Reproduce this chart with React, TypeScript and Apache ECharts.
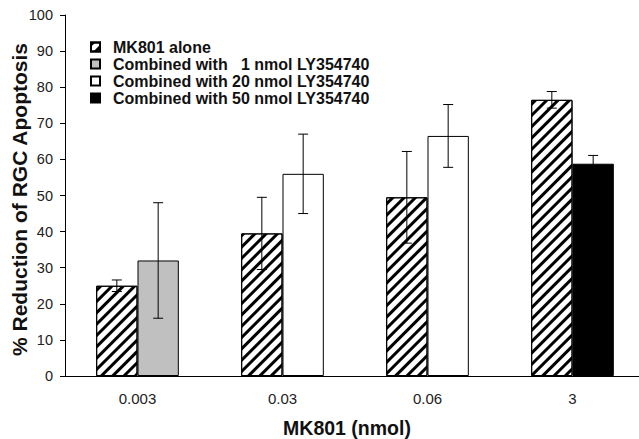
import React, { useEffect, useRef } from "react";
import * as echarts from "echarts";

const categories = ["0.003", "0.03", "0.06", "3"];
const yTicks = { min: 0, max: 100, interval: 10 };
const aloneValues = [25, 39.5, 49.5, 76.5];
const aloneErrors = [1.6, 10, 12.7, 2.3];
const ly1Values = [32, null, null, null];
const ly20Values = [null, 56, 66.5, null];
const ly50Values = [null, null, null, 58.8];
const combinedErrors = [16, 11, 8.7, 2.3];
const combinedValues = [32, 56, 66.5, 58.8];
const seriesNames = [
  "MK801 alone",
  "Combined with   1 nmol LY354740",
  "Combined with 20 nmol LY354740",
  "Combined with 50 nmol LY354740",
];

const FONT = "Liberation Sans, Arial, sans-serif";
const BAR_FRAC = 0.285;

export default function App() {
  const ref = useRef<HTMLDivElement>(null);
  useEffect(() => {
    if (!ref.current) return;
    const chart = echarts.init(ref.current, null, { renderer: "svg" });
    const errData: any[] = [];
    aloneValues.forEach((v, i) => errData.push([i, v, aloneErrors[i], -1]));
    combinedValues.forEach((v, i) => errData.push([i, v, combinedErrors[i], 1]));
    const border = { borderColor: "#000", borderWidth: 1 };
    const bw = BAR_FRAC * 100 + "%";
    chart.setOption({
      animation: false,
      backgroundColor: "#fff",
      grid: { left: 65, top: 15, bottom: 63, width: 580, outerBoundsMode: "none" },
      legend: {
        orient: "vertical",
        left: 90,
        top: 39,
        padding: 0,
        itemWidth: 9,
        itemHeight: 9,
        itemGap: 1,
        icon: "rect",
        data: seriesNames,
        textStyle: {
          fontFamily: FONT,
          fontWeight: "bold",
          fontSize: 16,
          color: "#111",
          padding: [0, 0, 0, 8],
        },
      },
      xAxis: {
        type: "category",
        data: categories,
        axisLine: { lineStyle: { color: "#000", width: 1 } },
        axisTick: { length: 5, lineStyle: { color: "#000" } },
        axisLabel: { fontFamily: FONT, fontSize: 15, color: "#222", margin: 15 },
        name: "MK801 (nmol)",
        nameLocation: "middle",
        nameGap: 42,
        nameMoveOverlap: false,
        nameTextStyle: {
          fontFamily: FONT,
          fontWeight: "bold",
          fontSize: 19.5,
          color: "#111",
          padding: [0, 16, 0, 0],
        },
      },
      yAxis: {
        type: "value",
        min: yTicks.min,
        max: yTicks.max,
        interval: yTicks.interval,
        splitLine: { show: false },
        axisLine: { show: true, lineStyle: { color: "#000", width: 1 } },
        axisTick: { show: true, length: 5, lineStyle: { color: "#000" } },
        axisLabel: { fontFamily: FONT, fontSize: 14.5, color: "#222", margin: 12 },
        name: "% Reduction of RGC Apoptosis",
        nameLocation: "middle",
        nameGap: 35,
        nameMoveOverlap: false,
        nameTextStyle: {
          fontFamily: FONT,
          fontWeight: "bold",
          fontSize: 21,
          color: "#111",
          padding: [0, 8, 0, 0],
        },
      },
      series: [
        {
          type: "bar",
          name: seriesNames[0],
          data: aloneValues,
          barWidth: bw,
          barGap: "0%",
          itemStyle: {
            color: "#fff",
            ...border,
            decal: {
              symbol: "rect",
              symbolSize: 1,
              dashArrayX: [1, 0],
              dashArrayY: [3, 5],
              rotation: -Math.PI / 4,
              color: "#000",
              backgroundColor: "#fff",
            },
          },
        },
        {
          type: "bar",
          name: seriesNames[1],
          stack: "combined",
          data: ly1Values,
          barWidth: bw,
          barGap: "0%",
          itemStyle: { color: "#c0c0c0", ...border },
        },
        {
          type: "bar",
          name: seriesNames[2],
          stack: "combined",
          data: ly20Values,
          barWidth: bw,
          barGap: "0%",
          itemStyle: { color: "#fff", ...border },
        },
        {
          type: "bar",
          name: seriesNames[3],
          stack: "combined",
          data: ly50Values,
          barWidth: bw,
          barGap: "0%",
          itemStyle: { color: "#000", ...border },
        },
        {
          type: "custom",
          data: errData,
          encode: { x: 0, y: 1 },
          z: 10,
          renderItem: (params: any, api: any) => {
            const ci = api.value(0);
            const v = api.value(1);
            const e = api.value(2);
            const side = api.value(3);
            const band = api.size([1, 0])[0];
            const w = band * BAR_FRAC;
            const c = api.coord([ci, v]);
            const x = c[0] + (side * w) / 2;
            const top = api.coord([ci, v + e])[1];
            const bot = api.coord([ci, v - e])[1];
            const cap = 5;
            const st = { stroke: "#000", lineWidth: 1 };
            return {
              type: "group",
              children: [
                { type: "line", shape: { x1: x, y1: top, x2: x, y2: bot }, style: st },
                { type: "line", shape: { x1: x - cap, y1: top, x2: x + cap, y2: top }, style: st },
                { type: "line", shape: { x1: x - cap, y1: bot, x2: x + cap, y2: bot }, style: st },
              ],
            };
          },
        },
      ],
    });
    return () => chart.dispose();
  }, []);
  return <div ref={ref} style={{ width: 639, height: 439, position: "absolute", left: 0, top: 0 }} />;
}
